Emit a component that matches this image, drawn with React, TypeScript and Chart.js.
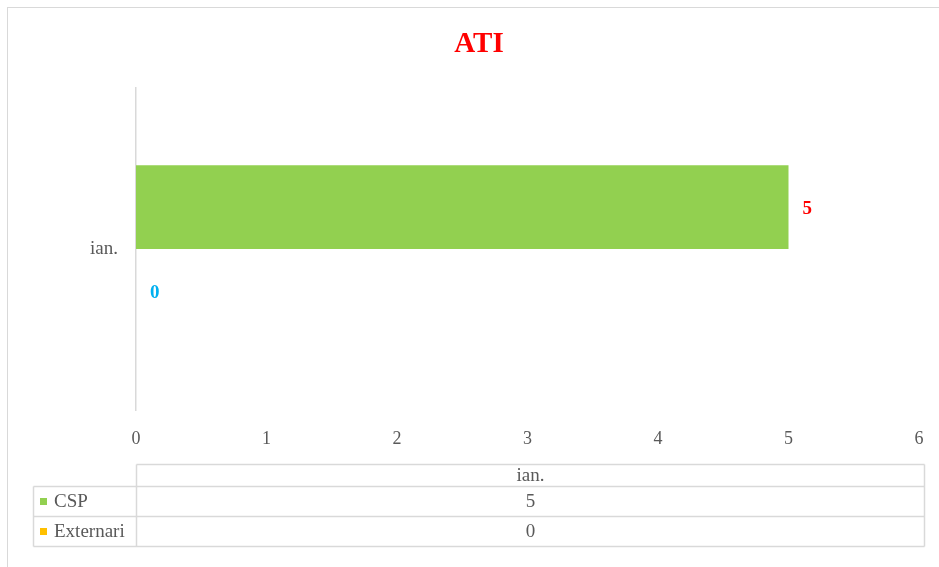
import React, { useEffect, useRef } from 'react';
import { Chart, registerables } from 'chart.js';

Chart.register(...registerables);

const chartTitle = 'ATI';
const categories = ['ian.'];
const seriesNames = ['CSP', 'Externari'];
const cspValues = [5];
const externariValues = [0];
const seriesColors = ['#92d050', '#ffc000'];
const valueLabelColors = ['#ff0000', '#00b0f0'];
const xMin = 0;
const xMax = 6;
const xStep = 1;

const FONT = "'Liberation Serif', 'Times New Roman', serif";
const GREY_TEXT = '#595959';
const LINE = '#d9d9d9';

const decorPlugin = {
  id: 'decor',
  beforeDraw(chart: any) {
    const ctx = chart.ctx;
    ctx.save();
    ctx.fillStyle = '#ffffff';
    ctx.fillRect(0, 0, chart.width, chart.height);
    ctx.strokeStyle = LINE;
    ctx.lineWidth = 1;
    ctx.strokeRect(7.5, 7.5, chart.width + 100, chart.height + 100);
    ctx.restore();
  },
  afterDraw(chart: any) {
    const ctx = chart.ctx;
    const area = chart.chartArea;
    ctx.save();
    // title
    ctx.fillStyle = '#ff0000';
    ctx.font = `bold 29px ${FONT}`;
    ctx.textAlign = 'center';
    ctx.textBaseline = 'middle';
    ctx.fillText(chartTitle, 479, 45);

    // value labels
    ctx.font = `bold 19px ${FONT}`;
    ctx.textAlign = 'left';
    chart.data.datasets.forEach((ds: any, i: number) => {
      const meta = chart.getDatasetMeta(i);
      meta.data.forEach((el: any, j: number) => {
        ctx.fillStyle = valueLabelColors[i];
        ctx.fillText(String(ds.data[j]), el.x + 14, el.y + 2);
      });
    });

    // data table
    const left = 33.5;
    const colX = Math.round(area.left) + 0.5;
    const right = Math.round(area.right) + 5.5;
    const rowsY = [464.5, 486.5, 516.5, 546.5];
    ctx.strokeStyle = LINE;
    ctx.lineWidth = 1.5;
    ctx.beginPath();
    ctx.moveTo(colX, rowsY[0]);
    ctx.lineTo(right, rowsY[0]);
    for (let r = 1; r < rowsY.length; r++) {
      ctx.moveTo(left, rowsY[r]);
      ctx.lineTo(right, rowsY[r]);
    }
    ctx.moveTo(left, rowsY[1]);
    ctx.lineTo(left, rowsY[3]);
    ctx.moveTo(colX, rowsY[0]);
    ctx.lineTo(colX, rowsY[3]);
    ctx.moveTo(right, rowsY[0]);
    ctx.lineTo(right, rowsY[3]);
    ctx.stroke();

    ctx.font = `19px ${FONT}`;
    ctx.fillStyle = GREY_TEXT;
    ctx.textBaseline = 'middle';
    const colMid = (colX + right) / 2;
    ctx.textAlign = 'center';
    categories.forEach((c) => ctx.fillText(c, colMid, (rowsY[0] + rowsY[1]) / 2 + 1));
    chart.data.datasets.forEach((ds: any, i: number) => {
      const mid = (rowsY[i + 1] + rowsY[i + 2]) / 2 + 1;
      ctx.fillStyle = seriesColors[i];
      ctx.fillRect(40, mid - 4.5, 7, 7);
      ctx.fillStyle = GREY_TEXT;
      ctx.textAlign = 'left';
      ctx.fillText(seriesNames[i], 54, mid);
      ctx.textAlign = 'center';
      ds.data.forEach((v: number) => ctx.fillText(String(v), colMid, mid));
    });
    ctx.restore();
  },
};

export default function App() {
  const canvasRef = useRef<HTMLCanvasElement | null>(null);

  useEffect(() => {
    if (!canvasRef.current) return;
    const chart = new Chart(canvasRef.current, {
      type: 'bar',
      data: {
        labels: categories,
        datasets: [
          {
            label: seriesNames[0],
            data: cspValues,
            backgroundColor: seriesColors[0],
            categoryPercentage: 0.52,
            barPercentage: 1,
          },
          {
            label: seriesNames[1],
            data: externariValues,
            backgroundColor: seriesColors[1],
            categoryPercentage: 0.52,
            barPercentage: 1,
          },
        ],
      },
      options: {
        indexAxis: 'y',
        responsive: false,
        animation: false,
        layout: { padding: { top: 88, right: 20, left: 0, bottom: 0 } },
        plugins: {
          legend: { display: false },
          title: { display: false },
          tooltip: { enabled: false },
        },
        scales: {
          x: {
            min: xMin,
            max: xMax,
            grid: { display: false, drawTicks: true, tickLength: 18 },
            border: { display: false },
            ticks: {
              stepSize: xStep,
              padding: 0,
              color: GREY_TEXT,
              font: { family: FONT, size: 18 },
            },
            afterFit: (scale: any) => {
              scale.height = 157;
            },
          },
          y: {
            grid: { display: false, drawTicks: false },
            border: { display: true, color: LINE, width: 1.5 },
            ticks: {
              padding: 18,
              color: GREY_TEXT,
              font: { family: FONT, size: 19 },
            },
            afterFit: (scale: any) => {
              scale.width = 136;
            },
          },
        },
      },
      plugins: [decorPlugin],
    } as any);
    return () => chart.destroy();
  }, []);

  return (
    <div style={{ position: 'absolute', left: 0, top: 0, width: 939, height: 567 }}>
      <canvas ref={canvasRef} width={939} height={567} style={{ display: 'block' }} />
    </div>
  );
}
